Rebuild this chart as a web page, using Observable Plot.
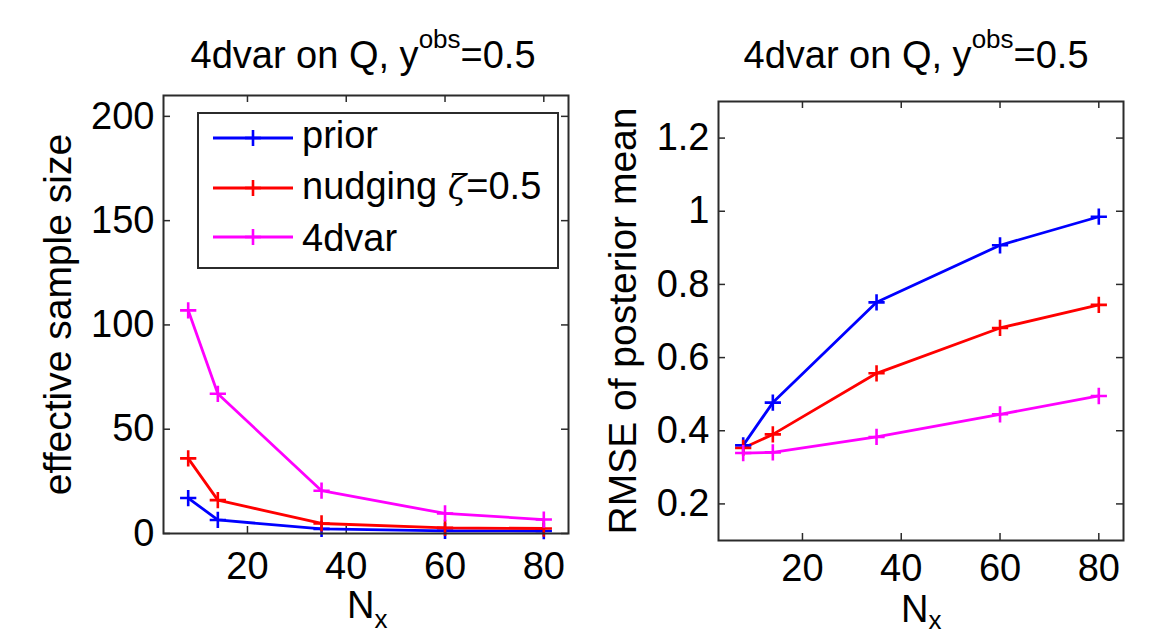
<!DOCTYPE html>
<html><head><meta charset="utf-8">
<script src="https://cdn.jsdelivr.net/npm/d3@7"></script>
<script src="https://cdn.jsdelivr.net/npm/@observablehq/plot@0.6"></script>
<style>
body{margin:0;background:#fff;}
#root{position:relative;width:1152px;height:638px;overflow:hidden;background:#fff;font-family:"Liberation Sans",Arial,sans-serif;color:#000;}
.abs{position:absolute;white-space:nowrap;line-height:1;font-size:38px;}
.panel{position:absolute;top:0;}
</style></head><body><div id="root"></div>
<script>
// ---- data ----
const nx = [8, 14, 35, 60, 80];
const seriesNames = ["prior", "nudging ζ=0.5", "4dvar"];
const seriesColors = ["#0000ff", "#ff0000", "#ff00ff"];
const essPrior   = [17, 6.5, 2.2, 1.3, 1.2];
const essNudging = [36, 16, 4.8, 2.7, 2.4];
const ess4dvar   = [107, 67, 20.5, 9.6, 6.7];
const rmsePrior   = [0.36, 0.477, 0.751, 0.907, 0.985];
const rmseNudging = [0.353, 0.39, 0.557, 0.681, 0.744];
const rmse4dvar   = [0.339, 0.341, 0.383, 0.445, 0.495];
const xTicks = [20, 40, 60, 80];
const essTicks = [0, 50, 100, 150, 200];
const rmseTicks = [0.2, 0.4, 0.6, 0.8, 1, 1.2];
const titleMain = "4dvar on Q, y", titleSup = "obs", titleEnd = "=0.5";
const xLabel = "N", xLabelSub = "x";
const essLabel = "effective sample size";
const rmseLabel = "RMSE of posterior mean";

function rows(seriesValues) {
  const out = [];
  seriesValues.forEach((vals, i) => vals.forEach((v, j) => out.push({series: seriesNames[i], x: nx[j], y: v})));
  return out;
}

const root = document.getElementById("root");
const axisColor = "#2b2b2b";
const W = 576, H = 638;
const FS = 38;

function panel({left, values, yDomain, yTicks, ml, mr, mt, mb, ylabel, ylabelDx, xPad}) {
  const fw = W - ml - mr, fh = H - mt - mb;
  const data = rows(values);
  const tickLen = 7;
  const svg = Plot.plot({
    width: W, height: H,
    marginLeft: ml, marginRight: mr, marginTop: mt, marginBottom: mb,
    style: {fontFamily: '"Liberation Sans", Arial, sans-serif', fontSize: FS + "px", color: "#000", background: "transparent", overflow: "visible"},
    x: {domain: [3, 85]},
    y: {domain: yDomain},
    color: {domain: seriesNames, range: seriesColors},
    marks: [
      Plot.tickX(xTicks, {x: d => d, stroke: axisColor, strokeWidth: 1.5, insetTop: fh - tickLen}),
      Plot.tickX(xTicks, {x: d => d, stroke: axisColor, strokeWidth: 1.5, insetBottom: fh - tickLen}),
      Plot.tickY(yTicks, {y: d => d, stroke: axisColor, strokeWidth: 1.5, insetRight: fw - tickLen}),
      Plot.tickY(yTicks, {y: d => d, stroke: axisColor, strokeWidth: 1.5, insetLeft: fw - tickLen}),
      Plot.axisX(xTicks, {tickSize: 0, tickPadding: xPad, label: null, fontSize: FS}),
      Plot.axisY(yTicks, {tickSize: 0, tickPadding: 9, label: null, fontSize: FS, tickFormat: d => String(d)}),
      Plot.line(data, {x: "x", y: "y", z: "series", stroke: "series", strokeWidth: 2.8}),
      Plot.dot(data, {x: "x", y: "y", stroke: "series", symbol: "plus", r: 5.3, strokeWidth: 2.6}),
      Plot.frame({stroke: axisColor, strokeWidth: 2}),
      Plot.text([ylabel], {text: d => d, frameAnchor: "left", rotate: -90, dx: ylabelDx, textAnchor: "middle", lineAnchor: "middle", fontSize: 39})
    ]
  });
  const wrap = document.createElement("div");
  wrap.className = "panel";
  wrap.style.left = left + "px";
  wrap.appendChild(svg);
  root.appendChild(wrap);
}

panel({left: 0, values: [essPrior, essNudging, ess4dvar], yDomain: [0, 210], yTicks: essTicks,
  ml: 163, mr: 8, mt: 95, mb: 105, ylabel: essLabel, ylabelDx: -105, xPad: 19});
panel({left: 576, values: [rmsePrior, rmseNudging, rmse4dvar], yDomain: [0.1, 1.3], yTicks: rmseTicks,
  ml: 142, mr: 29, mt: 101, mb: 98, ylabel: rmseLabel, ylabelDx: -95, xPad: 14});

// titles and x labels
function addText(html, cx, top) {
  const d = document.createElement("div");
  d.className = "abs";
  d.innerHTML = html;
  d.style.top = top + "px";
  root.appendChild(d);
  d.style.left = (cx - d.offsetWidth / 2) + "px";
}
const titleHtml = `${titleMain}<span style="position:relative;top:-20px;font-size:26px">${titleSup}</span>${titleEnd}`;
addText(titleHtml, 363, 36);
addText(titleHtml, 916, 36);
const xlabHtml = (shift) => `${xLabel}<span style="position:relative;top:${shift}px;font-size:26px">${xLabelSub}</span>`;
addText(xlabHtml(10), 367, 586);
addText(xlabHtml(7), 921, 590);

// legend
const leg = document.createElement("div");
leg.style.cssText = `position:absolute;left:197px;top:112px;width:362px;height:157px;box-sizing:border-box;border:2px solid ${axisColor};background:#fff;`;
root.appendChild(leg);
seriesNames.forEach((name, i) => {
  const cy = 138 + i * 49.5 - 112;
  const s = document.createElementNS("http://www.w3.org/2000/svg", "svg");
  s.setAttribute("width", 84); s.setAttribute("height", 20);
  s.style.cssText = `position:absolute;left:12px;top:${cy - 10 - 2}px;`;
  s.innerHTML = `<line x1="2" x2="82" y1="10" y2="10" stroke="${seriesColors[i]}" stroke-width="2.8"/>` +
    `<line x1="42" x2="42" y1="2" y2="18" stroke="${seriesColors[i]}" stroke-width="2.6"/>` +
    `<line x1="34" x2="50" y1="10" y2="10" stroke="${seriesColors[i]}" stroke-width="2.6"/>`;
  leg.appendChild(s);
  const t = document.createElement("div");
  t.className = "abs";
  t.innerHTML = name.replace("ζ", `<span style="font-family:'DejaVu Serif';font-style:italic;font-size:34px">ζ</span>`);
  const baseline = 148 + i * 51.5 - 112;
  t.style.top = (baseline - 32.2 - 2) + "px";
  t.style.left = (302 - 197 - 2) + "px";
  leg.appendChild(t);
});
</script></body></html>
